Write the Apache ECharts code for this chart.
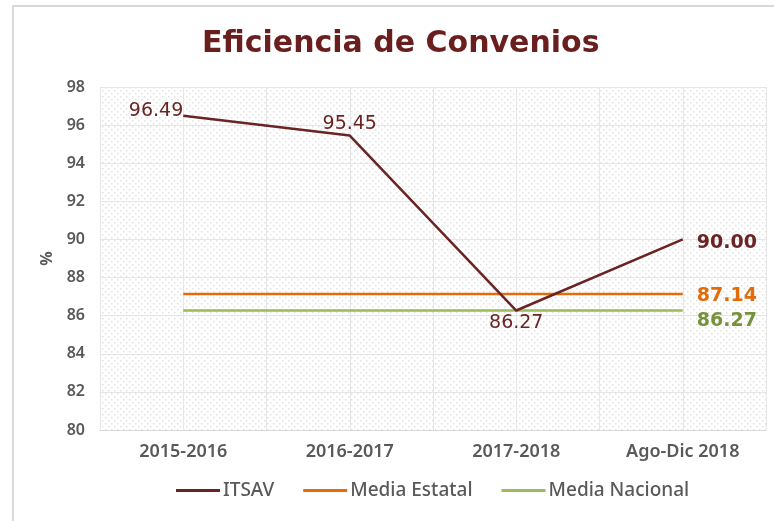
<!DOCTYPE html>
<html>
<head>
<meta charset="utf-8">
<script src="https://cdn.jsdelivr.net/npm/echarts@6/dist/echarts.min.js"></script>
<style>
  html, body { margin: 0; padding: 0; background: #fff; }
  #chart { width: 774px; height: 521px; }
</style>
</head>
<body>
<div id="chart"></div>
<script>
const periods = ['2015-2016', '2016-2017', '2017-2018', 'Ago-Dic 2018']
const itsav = [96.49, 95.45, 86.27, 90.00]
const mediaEstatal = [87.14, 87.14, 87.14, 87.14]
const mediaNacional = [86.27, 86.27, 86.27, 86.27]

const maroon = '#6b2424'
const orange = '#e46c0a'
const green = '#9bbb59'

// dotted fill of the plot area
function dotPattern () {
  const c = document.createElement('canvas')
  c.width = 6
  c.height = 6
  const ctx = c.getContext('2d')
  ctx.fillStyle = '#ffffff'
  ctx.fillRect(0, 0, 6, 6)
  ctx.fillStyle = '#e2e2e2'
  ctx.fillRect(0, 0, 1.5, 1.5)
  ctx.fillRect(3, 3, 1.5, 1.5)
  return c
}

const twoDecimals = function (p) { return Number(p.value).toFixed(2) }

const itsavLabels = [
  { position: 'left', distance: 0, offset: [0, -5] },
  { position: 'top', distance: 2 },
  { position: 'bottom', distance: 3 },
  { position: 'right', distance: 14, fontWeight: 'bold', offset: [0, 4] }
]

function lastOnly (values, label) {
  return values.map(function (v, i) {
    return i === values.length - 1 ? { value: v, label: Object.assign({ show: true }, label) } : v
  })
}

const chart = echarts.init(document.getElementById('chart'))
chart.setOption({
  animation: false,
  backgroundColor: '#fff',
  graphic: [{
    type: 'rect',
    shape: { x: 13, y: 6, width: 800, height: 600 },
    style: { fill: 'none', stroke: '#d9d9d9', lineWidth: 2 },
    silent: true
  }],
  title: {
    text: 'Eficiencia de Convenios',
    left: 197,
    top: 24,
    textStyle: { fontFamily: 'DejaVu Sans', fontWeight: 'bold', fontSize: 30, color: '#6a1f1f' }
  },
  legend: {
    top: 481,
    left: 176,
    padding: 0,
    icon: 'rect',
    itemWidth: 44,
    itemHeight: 3,
    itemGap: 29,
    textStyle: { fontFamily: 'Noto Sans', fontWeight: 500, fontSize: 19, color: '#595959', padding: [0, 0, 0, -2] },
    data: ['ITSAV', 'Media Estatal', 'Media Nacional']
  },
  grid: {
    left: 100, right: 8, top: 87, bottom: 91,
    show: true,
    borderWidth: 0,
    backgroundColor: { image: dotPattern(), repeat: 'repeat' }
  },
  xAxis: [{
    type: 'category',
    data: periods,
    boundaryGap: true,
    axisLine: { lineStyle: { color: '#d9d9d9', width: 1 } },
    axisTick: { show: false },
    axisLabel: { fontFamily: 'Noto Sans', fontWeight: 600, fontSize: 18, color: '#595959', margin: 13 },
    splitLine: { show: false }
  }, {
    type: 'value',
    min: 0,
    max: 8,
    interval: 1,
    position: 'top',
    axisLine: { show: false },
    axisTick: { show: false },
    axisLabel: { show: false },
    splitLine: { show: true, lineStyle: { color: '#e6e6e6', width: 1 } }
  }],
  yAxis: {
    type: 'value',
    min: 80,
    max: 98,
    interval: 2,
    name: '%',
    nameLocation: 'middle',
    nameGap: 38,
    nameRotate: 90,
    nameTextStyle: { fontFamily: 'Noto Sans', fontWeight: 'bold', fontSize: 16, color: '#595959' },
    axisLine: { show: false },
    axisTick: { show: false },
    axisLabel: { fontFamily: 'Noto Sans', fontWeight: 600, fontSize: 16, color: '#595959', margin: 15 },
    splitLine: { lineStyle: { color: '#e6e6e6', width: 1 } }
  },
  series: [{
    name: 'ITSAV',
    type: 'line',
    symbol: 'circle',
    symbolSize: 0,
    color: maroon,
    lineStyle: { color: maroon, width: 2.5 },
    label: { show: true, formatter: twoDecimals, fontFamily: 'DejaVu Sans', fontSize: 19, color: maroon },
    data: itsav.map(function (v, i) { return { value: v, label: itsavLabels[i] } }),
    z: 5
  }, {
    name: 'Media Estatal',
    type: 'line',
    symbol: 'circle',
    symbolSize: 0,
    color: orange,
    lineStyle: { color: orange, width: 2.5 },
    label: { show: false, formatter: twoDecimals },
    data: lastOnly(mediaEstatal, {
      position: 'right', distance: 14, offset: [0, 2],
      fontFamily: 'DejaVu Sans', fontWeight: 'bold', fontSize: 19, color: '#e36c09'
    }),
    z: 3
  }, {
    name: 'Media Nacional',
    type: 'line',
    symbol: 'circle',
    symbolSize: 0,
    color: green,
    lineStyle: { color: green, width: 2.5 },
    label: { show: false, formatter: twoDecimals },
    data: lastOnly(mediaNacional, {
      position: 'right', distance: 14, offset: [0, 11],
      fontFamily: 'DejaVu Sans', fontWeight: 'bold', fontSize: 19, color: '#76923c'
    }),
    z: 3
  }]
})
</script>
</body>
</html>
